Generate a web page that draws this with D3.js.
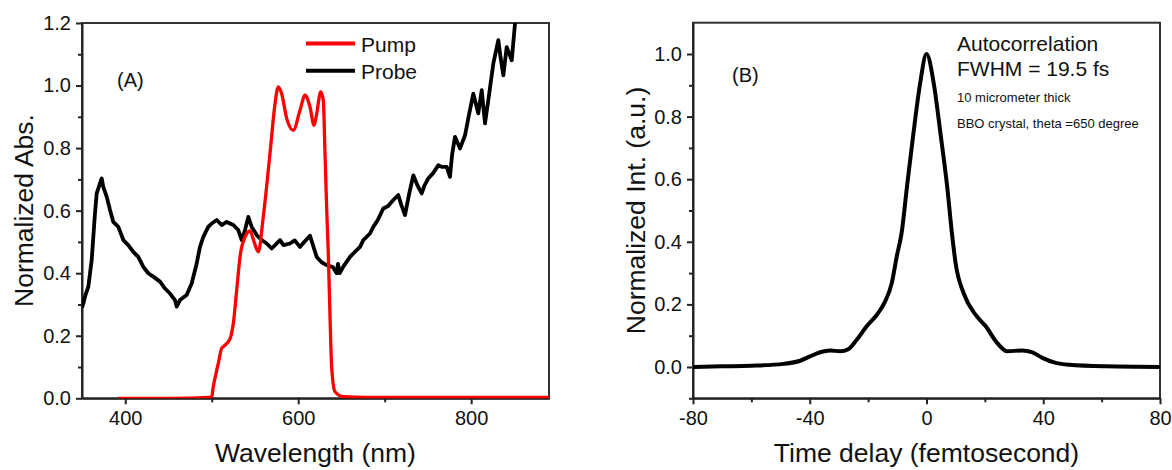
<!DOCTYPE html>
<html>
<head>
<meta charset="utf-8">
<script src="https://cdn.jsdelivr.net/npm/d3@7"></script>
<style>
  html, body { margin: 0; padding: 0; background: #fff; }
  svg { display: block; }
  text { font-family: "Liberation Sans", Arial, sans-serif; fill: #111; }
</style>
</head>
<body>
<svg id="chart" width="1172" height="470"></svg>
<script>
// ---------- DATA ----------
// Panel A: wavelength (nm) and normalized absorbance
const pumpWavelength = [392, 450, 498, 500, 501.8, 505.8, 507.6, 511.5, 513.4, 521.1, 525, 528.9, 532.7, 538.5, 544.3, 549, 553.9, 559.6, 567.4, 573.2, 577, 580.9, 586.7, 594.3, 602.1, 607.9, 613.6, 618.3, 621.4, 626, 629, 631, 633, 634.8, 636.8, 638.7, 642.6, 652.2, 680, 890];
const pumpAbs = [0, 0, 0.003, 0.005, 0.037, 0.09, 0.112, 0.16, 0.165, 0.19, 0.24, 0.346, 0.452, 0.516, 0.535, 0.50, 0.468, 0.58, 0.783, 0.942, 0.996, 0.974, 0.895, 0.857, 0.921, 0.969, 0.932, 0.873, 0.91, 0.98, 0.953, 0.783, 0.60, 0.463, 0.26, 0.10, 0.021, 0.005, 0.003, 0.003];

const probeWavelength = [350, 351.5, 354, 357.3, 361.2, 365, 367, 370.8, 372.8, 374.6, 378.6, 382.4, 386.2, 392, 397.8, 403.5, 409.3, 415.1, 420.9, 426.7, 432.4, 440.2, 446, 451.8, 457.5, 459.5, 463.3, 471, 476.8, 482.6, 486.4, 490.3, 496, 500, 505.8, 511.5, 517.3, 525, 530.7, 534.7, 538.5, 542.3, 546.2, 552, 557.8, 563.6, 569.4, 575.1, 579, 583, 590.5, 596, 602, 607, 613.6, 617, 621.4, 627, 633, 640, 644.5, 646, 648, 652, 659.9, 663.7, 671.5, 675.3, 683, 686.8, 692, 698.4, 704, 710, 715.7, 719, 723.5, 728, 733.1, 738, 742.8, 746, 750.4, 756, 762, 766, 771.7, 775.5, 778, 781.3, 787.1, 792.9, 797, 802.5, 808.2, 812.2, 816, 819.8, 825.6, 831.4, 834, 837.2, 841.1, 846.9, 850.7, 855];
const probeAbs = [0.29, 0.303, 0.33, 0.357, 0.442, 0.591, 0.655, 0.687, 0.703, 0.676, 0.644, 0.602, 0.564, 0.548, 0.506, 0.49, 0.468, 0.452, 0.42, 0.40, 0.389, 0.373, 0.351, 0.335, 0.314, 0.293, 0.314, 0.33, 0.367, 0.431, 0.484, 0.516, 0.548, 0.559, 0.57, 0.554, 0.564, 0.554, 0.538, 0.506, 0.538, 0.58, 0.548, 0.522, 0.506, 0.495, 0.479, 0.495, 0.506, 0.49, 0.495, 0.505, 0.484, 0.50, 0.52, 0.49, 0.452, 0.435, 0.426, 0.42, 0.40, 0.43, 0.40, 0.42, 0.452, 0.463, 0.484, 0.506, 0.527, 0.548, 0.57, 0.607, 0.615, 0.634, 0.65, 0.62, 0.586, 0.65, 0.713, 0.68, 0.655, 0.68, 0.703, 0.72, 0.745, 0.74, 0.74, 0.708, 0.78, 0.836, 0.799, 0.841, 0.9, 0.974, 0.911, 0.985, 0.879, 0.953, 1.07, 1.145, 1.09, 1.033, 1.123, 1.081, 1.198, 1.32];

// Panel B: time delay (fs) and normalized intensity
const delayFs = [-80, -70, -60, -49, -43.3, -39.9, -36.4, -33, -29.6, -26.8, -23.9, -20.5, -17, -14.2, -11.9, -10.2, -8.5, -6.7, -4.5, -2.2, 0, 2.5, 4.8, 7.1, 8.8, 10, 12.8, 16.8, 20.3, 24.2, 27.7, 32.8, 36.3, 39.7, 44.3, 48.9, 61.5, 80];
const autoInt = [0, 0.002, 0.004, 0.01, 0.02, 0.034, 0.047, 0.053, 0.05, 0.057, 0.087, 0.13, 0.167, 0.209, 0.268, 0.353, 0.43, 0.575, 0.745, 0.905, 1.0, 0.905, 0.745, 0.575, 0.42, 0.33, 0.234, 0.167, 0.13, 0.077, 0.05, 0.053, 0.047, 0.029, 0.013, 0.007, 0.002, 0.0];

// Tick values / labels
const xTicksA = [400, 600, 800];
const xMinorA = [500, 700];
const yTicksA = [0.0, 0.2, 0.4, 0.6, 0.8, 1.0, 1.2];
const yMinorA = [0.1, 0.3, 0.5, 0.7, 0.9, 1.1];
const xTicksB = [-80, -40, 0, 40, 80];
const xMinorB = [-60, -20, 20, 60];
const yTicksB = [0.0, 0.2, 0.4, 0.6, 0.8, 1.0];
const yMinorB = [-0.1, 0.1, 0.3, 0.5, 0.7, 0.9];

const seriesNames = ["Pump", "Probe"];
const seriesColors = ["#ff0000", "#000000"];
const annotB = ["Autocorrelation", "FWHM = 19.5 fs", "10 micrometer thick", "BBO crystal, theta =650 degree"];

// ---------- DRAW ----------
const svg = d3.select("#chart");
svg.append("rect").attr("width", 1172).attr("height", 470).attr("fill", "#fff");

const A = {l: 82, r: 549, t: 23, b: 398.3};
const B = {l: 693, r: 1160, t: 22.7, b: 398.3};

const xA = d3.scaleLinear().domain([350, 890]).range([A.l, A.r]);
const yA = d3.scaleLinear().domain([0, 1.2]).range([A.b, A.t]);
const xB = d3.scaleLinear().domain([-80, 80]).range([B.l, B.r]);
const yB = d3.scaleLinear().domain([-0.1, 1.1]).range([B.b, B.t]);

const defs = svg.append("defs");
defs.append("clipPath").attr("id", "clipA").append("rect")
  .attr("x", A.l).attr("y", A.t).attr("width", A.r - A.l).attr("height", A.b - A.t);
defs.append("clipPath").attr("id", "clipB").append("rect")
  .attr("x", B.l).attr("y", B.t).attr("width", B.r - B.l).attr("height", B.b - B.t);

const intHyphen = d => String(Math.round(d));   // plain hyphen-minus like the reference
const oneDec = d => d.toFixed(1);

function styleAxis(g, fontSize) {
  g.selectAll(".domain").attr("stroke", "#222").attr("stroke-width", 2);
  g.selectAll(".tick line").attr("stroke", "#222").attr("stroke-width", 2);
  g.selectAll(".tick text").attr("font-size", fontSize).attr("fill", "#111")
    .attr("font-family", "'Liberation Sans', Arial, sans-serif");
}

function drawPanel(P, x, y, xt, xm, yt, ym) {
  svg.append("rect").attr("x", P.l).attr("y", P.t).attr("width", P.r - P.l).attr("height", P.b - P.t)
    .attr("fill", "none").attr("stroke", "#333").attr("stroke-width", 2);
  const gx = svg.append("g").attr("transform", `translate(0,${P.b})`)
    .call(d3.axisBottom(x).tickValues(xt).tickSize(6).tickSizeOuter(0).tickPadding(7).tickFormat(intHyphen));
  styleAxis(gx, "20px");
  const gxm = svg.append("g").attr("transform", `translate(0,${P.b})`)
    .call(d3.axisBottom(x).tickValues(xm).tickSize(4).tickSizeOuter(0).tickFormat(""));
  styleAxis(gxm, "20px");
  gxm.select(".domain").remove();
  const gy = svg.append("g").attr("transform", `translate(${P.l},0)`)
    .call(d3.axisLeft(y).tickValues(yt).tickSize(6).tickSizeOuter(0).tickPadding(5).tickFormat(oneDec));
  styleAxis(gy, "20px");
  const gym = svg.append("g").attr("transform", `translate(${P.l},0)`)
    .call(d3.axisLeft(y).tickValues(ym).tickSize(4).tickSizeOuter(0).tickFormat(""));
  styleAxis(gym, "20px");
  gym.select(".domain").remove();
}

drawPanel(A, xA, yA, xTicksA, xMinorA, yTicksA, yMinorA);
drawPanel(B, xB, yB, xTicksB, xMinorB, yTicksB, yMinorB);

// Lines panel A
const gA = svg.append("g").attr("clip-path", "url(#clipA)");
gA.append("path").datum(d3.zip(probeWavelength, probeAbs))
  .attr("d", d3.line().x(d => xA(d[0])).y(d => yA(d[1])))
  .attr("fill", "none").attr("stroke", seriesColors[1])
  .attr("stroke-width", 3.8).attr("stroke-linejoin", "round");
gA.append("path").datum(d3.zip(pumpWavelength, pumpAbs))
  .attr("d", d3.line().x(d => xA(d[0])).y(d => yA(d[1])).curve(d3.curveMonotoneX))
  .attr("fill", "none").attr("stroke", seriesColors[0])
  .attr("stroke-width", 3.3).attr("stroke-linejoin", "round");

// Line panel B
const lineB = d3.line().x(d => xB(d[0])).y(d => yB(d[1])).curve(d3.curveMonotoneX);
svg.append("g").attr("clip-path", "url(#clipB)").append("path")
  .datum(d3.zip(delayFs, autoInt))
  .attr("d", lineB).attr("fill", "none").attr("stroke", "#000")
  .attr("stroke-width", 4).attr("stroke-linejoin", "round");

// Legend
const legY = [43.5, 70.7];
seriesNames.forEach((n, i) => {
  svg.append("line").attr("x1", 306).attr("x2", 355).attr("y1", legY[i]).attr("y2", legY[i])
    .attr("stroke", seriesColors[i]).attr("stroke-width", 4);
  svg.append("text").attr("x", 361).attr("y", legY[i] + 8).attr("font-size", "21px").text(n);
});

// Panel labels
svg.append("text").attr("x", 117).attr("y", 87).attr("font-size", "20px").text("(A)");
svg.append("text").attr("x", 732).attr("y", 82).attr("font-size", "20px").text("(B)");

// Annotation B
svg.append("text").attr("x", 957).attr("y", 50.5).attr("font-size", "21px").text(annotB[0]);
svg.append("text").attr("x", 957).attr("y", 76).attr("font-size", "21px").text(annotB[1]);
svg.append("text").attr("x", 957).attr("y", 101.5).attr("font-size", "13px").text(annotB[2]);
svg.append("text").attr("x", 957).attr("y", 128).attr("font-size", "13px").text(annotB[3]);

// Axis titles
svg.append("text").attr("transform", "translate(33,210.5) rotate(-90)").attr("text-anchor", "middle")
  .attr("font-size", "26.5px").text("Normalized Abs.");
svg.append("text").attr("transform", "translate(645,210.5) rotate(-90)").attr("text-anchor", "middle")
  .attr("font-size", "26.5px").text("Normalized Int. (a.u.)");
svg.append("text").attr("x", 315.5).attr("y", 462).attr("text-anchor", "middle")
  .attr("font-size", "26.5px").text("Wavelength (nm)");
svg.append("text").attr("x", 926.5).attr("y", 462).attr("text-anchor", "middle")
  .attr("font-size", "26.5px").text("Time delay (femtosecond)");
</script>
</body>
</html>
